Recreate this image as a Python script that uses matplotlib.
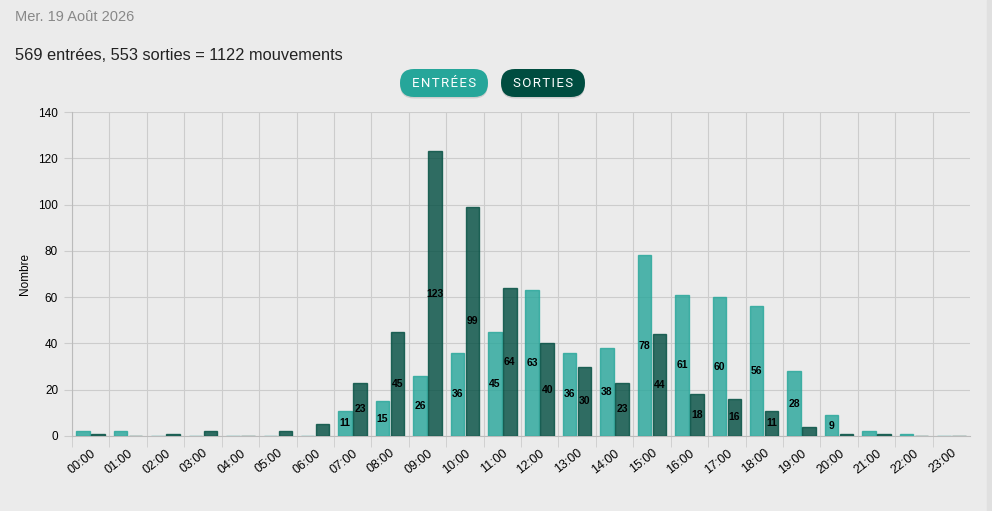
import numpy as np
import matplotlib
matplotlib.use("Agg")
import matplotlib.pyplot as plt
from matplotlib import font_manager as fm
from matplotlib.patches import FancyBboxPatch, Rectangle

# keep the regular-width Liberation Sans (avoid matching the Narrow cut)
fm.fontManager.ttflist = [f for f in fm.fontManager.ttflist if "Narrow" not in f.fname]
plt.rcParams.update({"font.family": ["Liberation Sans", "DejaVu Sans"], "font.size": 8})

hours = [f"{h:02d}:00" for h in range(24)]
entrees = [2, 2, 0, 0, 0, 0, 0, 11, 15, 26, 36, 45, 63, 36, 38, 78, 61, 60, 56, 28, 9, 2, 1, 0]
sorties = [1, 0, 1, 2, 0, 2, 5, 23, 45, 123, 99, 64, 40, 30, 23, 44, 18, 16, 11, 4, 1, 1, 0, 0]
date_txt = "Mer. 19 Août 2026"
summary = f"{sum(entrees)} entrées, {sum(sorties)} sorties = {sum(entrees) + sum(sorties)} mouvements"

BG = "#ebebeb"
C = {"in": "#26a69a", "out": "#004d40"}

W, H = 992, 511
fig = plt.figure(figsize=(W / 100, H / 100), dpi=100, facecolor=BG)

# overlay in pixel coordinates for the page header and buttons
ov = fig.add_axes([0, 0, 1, 1], zorder=-1)
ov.set_xlim(0, W); ov.set_ylim(H, 0); ov.axis("off")
ov.add_patch(Rectangle((987, 0), 5, H, color="#e0e0e0"))
ov.text(15, 17, date_txt, fontsize=10.5, color="#888888", va="center")
ov.text(15, 56, summary, fontsize=11.8, color="#222222", va="center")
for label, x0, x1, col in [("ENTRÉES", 400, 488, C["in"]), ("SORTIES", 501, 585, C["out"])]:
    ov.add_patch(FancyBboxPatch((x0, 70.5), x1 - x0, 28,
                                boxstyle="round,pad=0,rounding_size=14",
                                facecolor="#000000", alpha=0.12, edgecolor="none"))
    ov.add_patch(FancyBboxPatch((x0, 69), x1 - x0, 28,
                                boxstyle="round,pad=0,rounding_size=14",
                                facecolor=col, edgecolor="none"))
    ov.text((x0 + x1) / 2, 83.5, "\u200a".join(label), fontsize=9.5, color="white",
            ha="center", va="center", family=["Roboto", "DejaVu Sans"])

ax = fig.add_axes([72 / W, 1 - 436 / H, 898 / W, 324 / H])
ax.set_facecolor(BG)

x = np.arange(len(hours))
bw = 0.36
for vals, off, col in [(entrees, -0.2, C["in"]), (sorties, 0.2, C["out"])]:
    bars = ax.bar(x + off, vals, bw, color=col, alpha=0.8, edgecolor=col, lw=1, zorder=3)
    for b, v in zip(bars, vals):
        if v >= 9:
            ax.text(b.get_x() + b.get_width() / 2, v / 2, str(v), ha="center", va="center",
                    fontsize=7.5, fontweight="bold", color="black", zorder=4)

ax.set_xlim(-0.5, 23.5)
ax.set_ylim(0, 140)
ax.set_yticks(range(0, 141, 20))
ax.set_xticks(x)
ax.set_xticklabels(hours, rotation=38, ha="right", rotation_mode="anchor", fontsize=9)
ax.tick_params(axis="x", length=0, pad=8)
ax.tick_params(axis="y", length=6, color="#cccccc", labelsize=8.5, pad=4)
ax.set_xticks(np.arange(-0.5, 23.5, 1), minor=True)
ax.tick_params(axis="x", which="minor", length=8, color="#cccccc")
ax.grid(axis="y", color="#cccccc", lw=0.8, zorder=0)
ax.grid(axis="x", which="minor", color="#cccccc", lw=0.8, zorder=0)
ax.grid(axis="x", which="major", visible=False)
for s in ["top", "right"]:
    ax.spines[s].set_visible(False)
for s in ["left", "bottom"]:
    ax.spines[s].set_color("#bbbbbb")
ax.set_ylabel("Nombre", fontsize=8.5, labelpad=5)

fig.savefig("out.png", dpi=100, facecolor=BG)
